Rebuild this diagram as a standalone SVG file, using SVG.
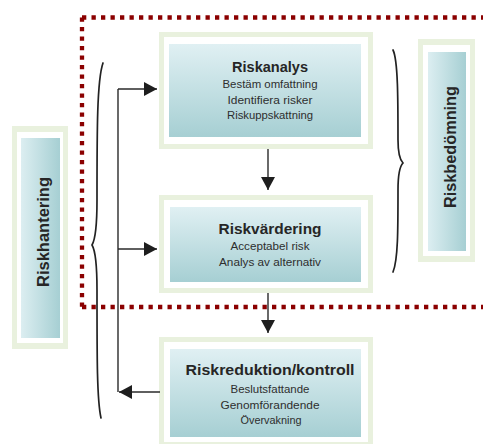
<svg xmlns="http://www.w3.org/2000/svg" width="483" height="444" viewBox="0 0 483 444">
<style>
.frame{fill:#e9f1de}
.gap{fill:#ffffff}
.inner{fill:url(#gv)}
.innerh{fill:url(#gh)}
.title{font-family:"Liberation Sans",Arial,sans-serif;font-weight:bold;font-size:15px;fill:#262626;text-anchor:middle}
.sub{font-family:"Liberation Sans",Arial,sans-serif;font-size:11px;fill:#2e2e2e;text-anchor:middle}
.vt{font-family:"Liberation Sans",Arial,sans-serif;font-weight:bold;font-size:16px;fill:#262626;text-anchor:middle}
.dot{fill:none;stroke:#8b0000;stroke-width:4.3;stroke-dasharray:4.3 5.2}
.conn{fill:none;stroke:#2a2a2a;stroke-width:1.4}
.brace{fill:none;stroke:#222;stroke-width:1.7;stroke-linecap:round}
</style>
<defs>
<linearGradient id="gv" x1="0" y1="0" x2="0" y2="1">
<stop offset="0" stop-color="#e0f0f3"/>
<stop offset="1" stop-color="#a6cfd3"/>
</linearGradient>
<linearGradient id="gh" x1="0" y1="0" x2="1" y2="0">
<stop offset="0" stop-color="#dceef1"/>
<stop offset="1" stop-color="#a6cfd3"/>
</linearGradient>
<marker id="ah" markerUnits="userSpaceOnUse" markerWidth="14" markerHeight="14" viewBox="0 0 13 14" refX="13" refY="7" orient="auto">
<path d="M0,0 L13,7 L0,14 Z" fill="#1e1e1e"/>
</marker>
</defs>

<g id="region">
<path class="dot" d="M82,17.5 H483"/>
<path class="dot" d="M82,17.5 V307"/>
<path class="dot" d="M82,307 H483"/>
</g>

<g id="riskhantering">
<rect class="frame" x="12" y="126" width="56" height="223"/>
<rect class="gap" x="17" y="132" width="46" height="211"/>
<rect class="innerh" x="21" y="138" width="39" height="200"/>
<text class="vt" transform="translate(49,232) rotate(-90)" textLength="110" lengthAdjust="spacingAndGlyphs">Riskhantering</text>
</g>

<g id="riskanalys">
<rect class="frame" x="159" y="32" width="214" height="117"/>
<rect class="gap" x="164" y="37" width="204" height="107"/>
<rect class="inner" x="169" y="44" width="192" height="93"/>
<text class="title" x="270" y="72" textLength="76" lengthAdjust="spacingAndGlyphs">Riskanalys</text>
<text class="sub" x="270" y="88" textLength="95" lengthAdjust="spacingAndGlyphs">Bestäm omfattning</text>
<text class="sub" x="270" y="103.5" textLength="85" lengthAdjust="spacingAndGlyphs">Identifiera risker</text>
<text class="sub" x="270" y="119" textLength="86" lengthAdjust="spacingAndGlyphs">Riskuppskattning</text>
</g>

<g id="riskvardering">
<rect class="frame" x="159" y="195" width="214" height="98"/>
<rect class="gap" x="164" y="200" width="204" height="88"/>
<rect class="inner" x="170" y="207" width="191" height="75"/>
<text class="title" x="270" y="234" textLength="103" lengthAdjust="spacingAndGlyphs">Riskvärdering</text>
<text class="sub" x="270" y="249.5" textLength="79" lengthAdjust="spacingAndGlyphs">Acceptabel risk</text>
<text class="sub" x="270" y="266" textLength="102" lengthAdjust="spacingAndGlyphs">Analys av alternativ</text>
</g>

<g id="riskreduktion">
<rect class="frame" x="159" y="337" width="214" height="107"/>
<rect class="gap" x="164" y="342" width="204" height="100"/>
<rect class="inner" x="170" y="349" width="191" height="88"/>
<text class="title" x="270" y="375" textLength="169" lengthAdjust="spacingAndGlyphs">Riskreduktion/kontroll</text>
<text class="sub" x="270" y="393" textLength="79" lengthAdjust="spacingAndGlyphs">Beslutsfattande</text>
<text class="sub" x="270" y="408.5" textLength="99" lengthAdjust="spacingAndGlyphs">Genomförandende</text>
<text class="sub" x="271" y="424" textLength="61" lengthAdjust="spacingAndGlyphs">Övervakning</text>
</g>

<g id="riskbedomning">
<rect class="frame" x="418" y="39" width="57" height="223"/>
<rect class="gap" x="423" y="45" width="47" height="211"/>
<rect class="innerh" x="428" y="52" width="38" height="199"/>
<text class="vt" transform="translate(456,147) rotate(-90)" textLength="122" lengthAdjust="spacingAndGlyphs">Riskbedömning</text>
</g>

<g id="connectors">
<path class="conn" d="M118,89 V392"/>
<path class="conn" d="M118,89 H157" marker-end="url(#ah)"/>
<path class="conn" d="M118,249 H157" marker-end="url(#ah)"/>
<path class="conn" d="M160,392 H119" marker-end="url(#ah)"/>
<path class="conn" d="M268,149 V190" marker-end="url(#ah)"/>
<path class="conn" d="M268,293 V333" marker-end="url(#ah)"/>
<path class="brace" d="M103,63 C97,80 97,130 97,200 C97,230 95,240 92,245 C95,250 97,260 97,290 C97,360 97,400 101,418"/>
<path class="brace" d="M393,50 C398,60 398,100 398,140 C398,155 400,160 403,163 C400,166 398,172 398,190 C398,230 398,260 393,272"/>
</g>
</svg>
